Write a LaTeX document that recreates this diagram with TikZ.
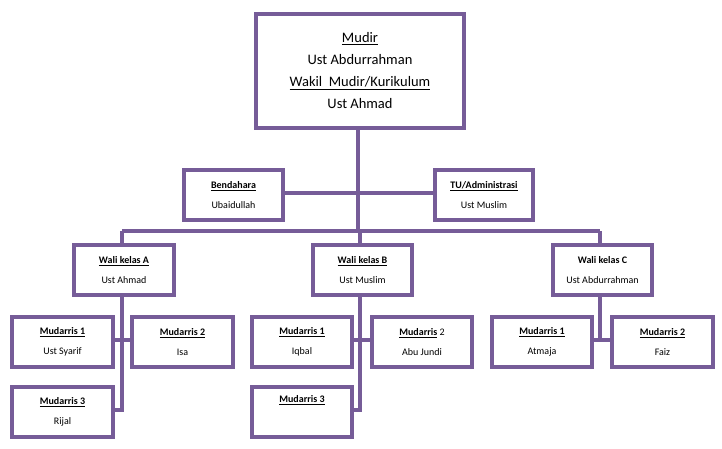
\documentclass[tikz,border=0pt]{standalone}
\usepackage{fontspec}
\setmainfont{Carlito}
\begin{document}
\begin{tikzpicture}[x=1pt,y=-1pt,
  box/.style={draw=pur,line width=4pt,fill=white,align=center,inner sep=0pt,anchor=north west,font=\fontsize{10}{20}\selectfont},
  ln/.style={draw=pur,line width=3.5pt}]
\definecolor{pur}{RGB}{118,92,152}
\useasboundingbox (0,0) rectangle (722,448);
\newcommand{\mybox}[6]{\node[box,minimum width=#4,minimum height=50] (#1) at (#2,#3) {#5\\#6};}
% connectors
\coordinate (j2) at (358,231);
\coordinate (ja) at (122,231);
\coordinate (jc) at (600,231);
\draw[ln] (358,126) -- (j2);
\draw[ln] (281,193) -- (433,193);
\draw[ln] (ja) -- (jc);
\draw[ln] (ja) -- (122,410) -- (111,410);
\draw[ln] (111,340) -- (130,340);
\draw[ln] (360,231) -- (360,410) -- (350,410);
\draw[ln] (350,340) -- (370,340);
\draw[ln] (jc) -- (600,340);
\draw[ln] (590,340) -- (610,340);
% boxes
\node[box,minimum width=208,minimum height=114,font=\fontsize{14.5}{22}\selectfont] (top) at (254,12)
 {\underline{Mudir}\\Ust Abdurrahman\\\underline{Wakil\ \ Mudir/Kurikulum}\\Ust Ahmad};
\mybox{bend}{182}{168}{99}{\textbf{\underline{Bendahara}}}{Ubaidullah}
\mybox{tu}{433}{168}{98}{\textbf{\underline{TU/Administrasi}}}{Ust Muslim}
\mybox{wa}{72}{243}{100}{\textbf{\underline{Wali kelas A}}}{Ust Ahmad}
\mybox{wb}{311}{243}{99}{\textbf{\underline{Wali kelas B}}}{Ust Muslim}
\mybox{wc}{551}{243}{99}{\textbf{Wali kelas C}}{Ust Abdurrahman}
\mybox{a1}{10}{315}{101}{\textbf{\underline{Mudarris 1}}}{Ust Syarif}
\mybox{a2}{130}{315}{101}{\textbf{\underline{Mudarris 2}}}{Isa}
\mybox{a3}{10}{385}{101}{\textbf{\underline{Mudarris 3}}}{Rijal}
\mybox{b1}{250}{315}{100}{\textbf{\underline{Mudarris 1}}}{Iqbal}
\mybox{b2}{370}{315}{100}{\textbf{\underline{Mudarris}} 2}{Abu Jundi}
\mybox{b3}{250}{385}{100}{\textbf{\underline{Mudarris 3}}}{\strut}
\mybox{c1}{490}{315}{100}{\textbf{\underline{Mudarris 1}}}{Atmaja}
\mybox{c2}{610}{315}{101}{\textbf{\underline{Mudarris 2}}}{Faiz}
\end{tikzpicture}
\end{document}
